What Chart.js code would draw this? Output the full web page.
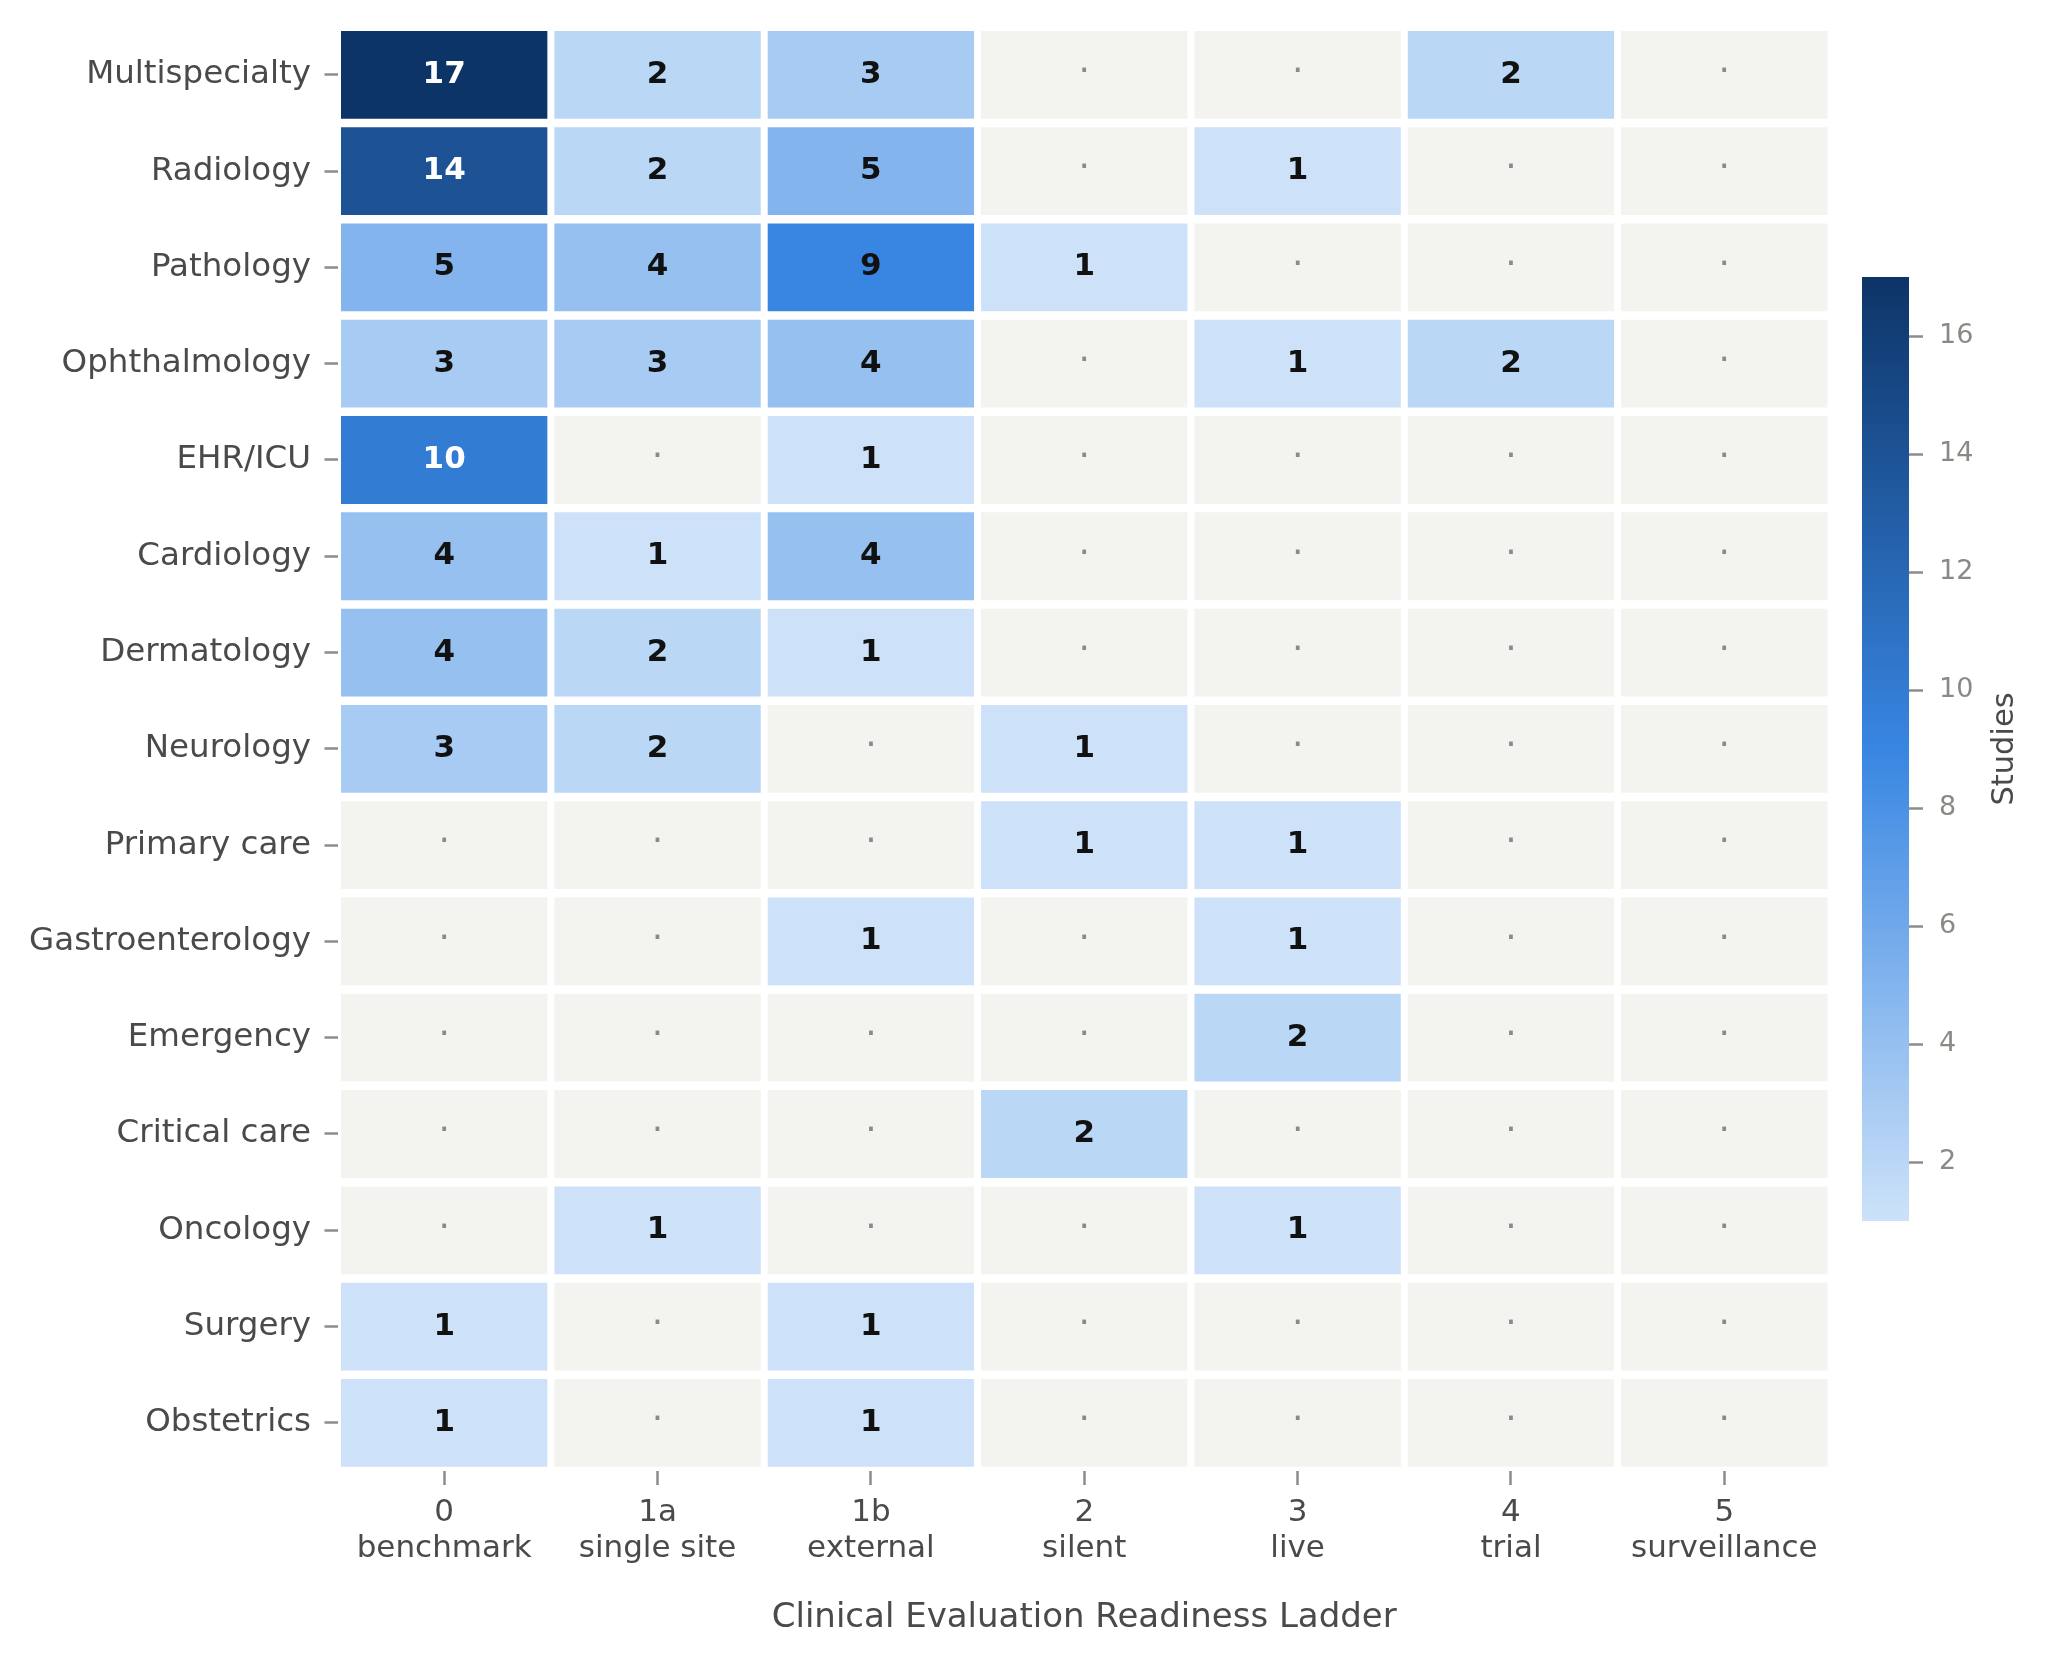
<!DOCTYPE html>
<html><head><meta charset="utf-8">
<script src="https://cdn.jsdelivr.net/npm/chart.js@4.4.1/dist/chart.umd.min.js"></script>
<style>
html,body{margin:0;padding:0;background:#fff;}
#wrap{position:relative;width:2047px;height:1658px;background:#fff;}
#main{position:absolute;left:0;top:0;width:1831px;height:1658px;}
#cbar{position:absolute;left:1862px;top:0;width:185px;height:1658px;}
</style></head><body>
<div id="wrap"><div id="main"><canvas id="c1"></canvas></div><div id="cbar"><canvas id="c2"></canvas></div></div>
<script>
// ---- data ----
const specialties = ['Multispecialty','Radiology','Pathology','Ophthalmology','EHR/ICU','Cardiology','Dermatology','Neurology','Primary care','Gastroenterology','Emergency','Critical care','Oncology','Surgery','Obstetrics'];
const stageCodes = ['0','1a','1b','2','3','4','5'];
const stageNames = ['benchmark','single site','external','silent','live','trial','surveillance'];
const benchmark    = [17,14,5,3,10,4,4,3,0,0,0,0,0,1,1];
const singleSite   = [2,2,4,3,0,1,2,2,0,0,0,0,1,0,0];
const external     = [3,5,9,4,1,4,1,0,0,1,0,0,0,1,1];
const silent       = [0,0,1,0,0,0,0,1,1,0,0,2,0,0,0];
const live         = [0,1,0,1,0,0,0,0,1,1,2,0,1,0,0];
const trial        = [2,0,0,2,0,0,0,0,0,0,0,0,0,0,0];
const surveillance = [0,0,0,0,0,0,0,0,0,0,0,0,0,0,0];
const colorbarTicks = [2,4,6,8,10,12,14,16];
const colorbarTitle = 'Studies';
const xTitle = 'Clinical Evaluation Readiness Ladder';

const columns = [benchmark, singleSite, external, silent, live, trial, surveillance];
const vmin = 1, vmax = 17;

// ---- colour map ----
const stops = [[205,226,249],[56,134,226],[13,52,103]];
const emptyColor = '#f3f3ef';
function cmap(v){
  let t = (v - vmin) / (vmax - vmin);
  t = Math.max(0, Math.min(1, t));
  let a, b, f;
  if (t <= 0.5){ a = stops[0]; b = stops[1]; f = t/0.5; } else { a = stops[1]; b = stops[2]; f = (t-0.5)/0.5; }
  const c = a.map((x,i)=>Math.round(x + (b[i]-x)*f));
  return `rgb(${c[0]},${c[1]},${c[2]})`;
}
function cellColor(v){ return v === 0 ? emptyColor : cmap(v); }

Chart.defaults.font.family = "'DejaVu Sans', sans-serif";

function noAxisPadding(s){ s.paddingTop = 0; s.paddingBottom = 0; s.paddingLeft = 0; s.paddingRight = 0; }

const halfGapX = 0.0164;
const datasets = columns.map((vals, c) => ({
  label: stageCodes[c],
  data: vals.map(() => [c + halfGapX, c + 1 - halfGapX]),
  backgroundColor: vals.map(cellColor),
  borderWidth: 0,
  grouped: false,
  barPercentage: 1,
  categoryPercentage: 0.912
}));

const cellLabels = {
  id: 'cellLabels',
  afterDatasetsDraw(chart){
    const ctx = chart.ctx;
    ctx.save();
    ctx.textAlign = 'center';
    ctx.textBaseline = 'middle';
    chart.data.datasets.forEach((ds, c) => {
      const meta = chart.getDatasetMeta(c);
      meta.data.forEach((el, r) => {
        const v = columns[c][r];
        const p = el.getCenterPoint();
        if (v === 0){
          ctx.font = "36px 'DejaVu Sans'";
          ctx.fillStyle = '#8a8a8a';
          ctx.fillText('·', p.x, p.y - 2);
        } else {
          ctx.font = "bold 31px 'DejaVu Sans'";
          ctx.fillStyle = v > vmax*0.55 ? '#ffffff' : '#111111';
          ctx.fillText(String(v), p.x, p.y);
        }
      });
    });
    ctx.restore();
  }
};

new Chart(document.getElementById('c1'), {
  type: 'bar',
  data: { labels: specialties, datasets },
  options: {
    indexAxis: 'y',
    animation: false,
    responsive: true,
    maintainAspectRatio: false,
    layout: { padding: { top: 26.7, left: 0, right: 0, bottom: 0 } },
    plugins: { legend: { display: false }, tooltip: { enabled: false } },
    scales: {
      y: {
        type: 'category',
        position: 'left',
        offset: true,
        grid: { display: true, drawOnChartArea: false, drawTicks: true, tickLength: 13, tickWidth: 2.5, tickColor: '#8c8c8c', offset: false },
        border: { display: false },
        ticks: { font: { size: 32.5 }, color: '#4a4a4a', padding: 13.5, autoSkip: false },
        afterFit(s){ s.width = 337.5; noAxisPadding(s); }
      },
      x: {
        type: 'linear',
        position: 'bottom',
        min: 0, max: stageCodes.length,
        afterBuildTicks(s){ s.ticks = stageCodes.map((_, i) => ({ value: i + 0.5 })); },
        ticks: {
          autoSkip: false, maxRotation: 0,
          callback: (v, i) => [stageCodes[i], stageNames[i]],
          font: { size: 31, lineHeight: 1.15 }, color: '#4a4a4a', padding: 10
        },
        grid: { display: true, drawOnChartArea: false, tickLength: 14, tickWidth: 2.5, tickColor: '#8c8c8c' },
        border: { display: false },
        title: { display: true, text: xTitle, font: { size: 34, lineHeight: 1.2 }, color: '#4a4a4a', padding: { top: 0, bottom: 19 } },
        afterFit(s){ s.height = 187; noAxisPadding(s); }
      }
    }
  },
  plugins: [cellLabels]
});

const studiesLabel = {
  id: 'studiesLabel',
  afterDraw(chart){
    const { ctx, chartArea } = chart;
    ctx.save();
    ctx.translate(chartArea.right + 96, (chartArea.top + chartArea.bottom) / 2);
    ctx.rotate(-Math.PI / 2);
    ctx.textAlign = 'center';
    ctx.textBaseline = 'middle';
    ctx.font = "30.5px 'DejaVu Sans'";
    ctx.fillStyle = '#4a4a4a';
    ctx.fillText(colorbarTitle, 0, 0);
    ctx.restore();
  }
};

new Chart(document.getElementById('c2'), {
  type: 'bar',
  data: {
    labels: [colorbarTitle],
    datasets: [{
      data: [[vmin, vmax]],
      backgroundColor(context){
        const chart = context.chart;
        const area = chart.chartArea;
        if (!area) return cmap(vmin);
        const ys = chart.scales.y;
        const g = chart.ctx.createLinearGradient(0, ys.getPixelForValue(vmin), 0, ys.getPixelForValue(vmax));
        g.addColorStop(0, cmap(vmin));
        g.addColorStop(0.5, cmap((vmin+vmax)/2));
        g.addColorStop(1, cmap(vmax));
        return g;
      },
      borderWidth: 0,
      barPercentage: 1,
      categoryPercentage: 1
    }]
  },
  options: {
    animation: false,
    responsive: true,
    maintainAspectRatio: false,
    layout: { padding: { top: 277, bottom: 437, left: 0, right: 0 } },
    plugins: { legend: { display: false }, tooltip: { enabled: false } },
    scales: {
      x: { display: false },
      y: {
        position: 'right',
        min: vmin, max: vmax,
        afterBuildTicks(s){ s.ticks = colorbarTicks.map(v => ({ value: v })); },
        ticks: { font: { size: 27 }, color: '#8a8a85', padding: 16 },
        grid: { display: true, drawOnChartArea: false, tickLength: 14, tickWidth: 2.5, tickColor: '#8c8c8c' },
        border: { display: false },
        afterFit(s){ s.width = 138; noAxisPadding(s); }
      }
    }
  },
  plugins: [studiesLabel]
});
</script>
</body></html>
